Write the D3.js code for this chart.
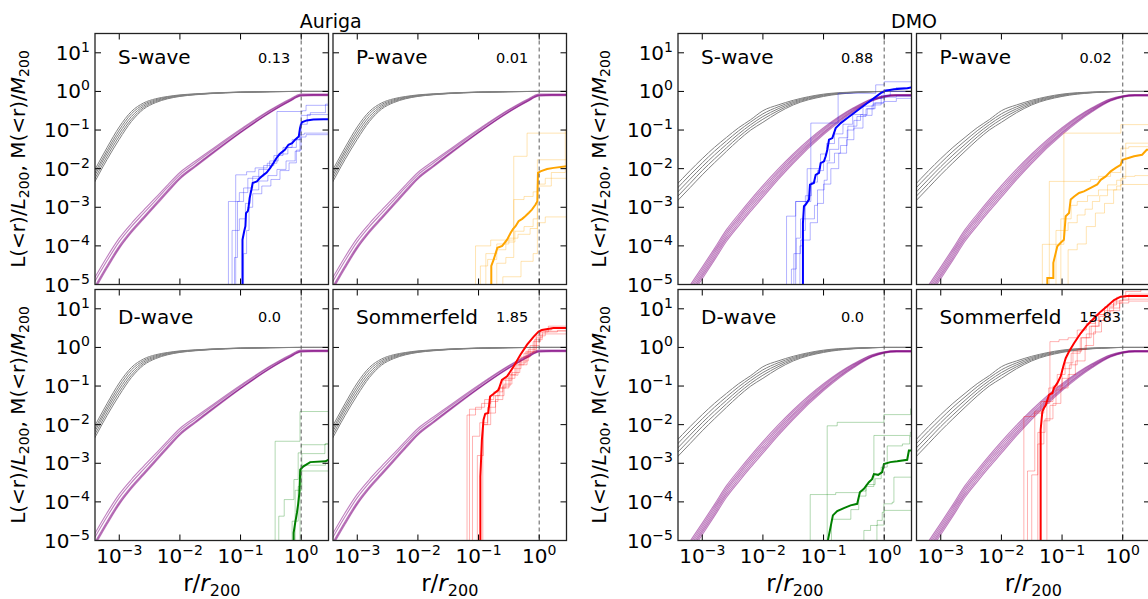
<!DOCTYPE html>
<html><head><meta charset="utf-8">
<script src="https://cdn.jsdelivr.net/npm/d3@7"></script>
<style>body{margin:0;background:#fff;} svg{display:block;font-family:"DejaVu Sans",sans-serif;}</style>
</head><body><svg id="chart" width="1148" height="599"></svg>
<script>
// ---------------- DATA (all values are log10 of r/r200 and of L or M) ----------------
const groupTitles = ["Auriga", "DMO"];
const panelLabels = ["S-wave", "P-wave", "D-wave", "Sommerfeld"];
const aurValues = ["0.13", "0.01", "0.0", "1.85"];
const dmoValues = ["0.88", "0.02", "0.0", "15.83"];
const xTickExp = [-3, -2, -1, 0];
const yTickExp = [-5, -4, -3, -2, -1, 0, 1];

const logRGrid = [-3.45,-3.2,-3.0,-2.8,-2.6,-2.4,-2.2,-2.0,-1.75,-1.5,-1.0,-0.5,-0.2,0,0.2,0.5];

const aurGray = [
 [-2.17,-1.45,-0.92,-0.52,-0.30,-0.19,-0.13,-0.09,-0.063,-0.042,-0.016,-0.004,-0.001,0,0,0],
 [-2.25,-1.53,-1.00,-0.58,-0.34,-0.215,-0.145,-0.10,-0.069,-0.046,-0.018,-0.005,-0.001,0,0,0],
 [-2.32,-1.60,-1.08,-0.65,-0.38,-0.24,-0.16,-0.11,-0.075,-0.05,-0.02,-0.006,-0.002,0,0,0],
 [-2.40,-1.68,-1.16,-0.72,-0.42,-0.265,-0.175,-0.12,-0.081,-0.054,-0.022,-0.007,-0.002,0,0,0],
 [-2.48,-1.76,-1.24,-0.78,-0.46,-0.29,-0.19,-0.13,-0.087,-0.058,-0.024,-0.008,-0.002,0,0,0]
];
const aurPurple = [
 [-4.95,-4.28,-3.80,-3.42,-3.08,-2.75,-2.42,-2.10,-1.81,-1.53,-0.98,-0.47,-0.21,-0.07,-0.07,-0.07],
 [-5.05,-4.38,-3.89,-3.50,-3.16,-2.82,-2.48,-2.16,-1.86,-1.57,-1.01,-0.49,-0.23,-0.085,-0.08,-0.08],
 [-5.18,-4.50,-4.00,-3.60,-3.25,-2.90,-2.55,-2.22,-1.92,-1.62,-1.05,-0.52,-0.25,-0.10,-0.09,-0.09],
 [-5.22,-4.54,-4.04,-3.63,-3.28,-2.93,-2.58,-2.25,-1.94,-1.64,-1.06,-0.53,-0.26,-0.11,-0.10,-0.10],
 [-5.26,-4.58,-4.07,-3.66,-3.31,-2.96,-2.61,-2.27,-1.96,-1.66,-1.07,-0.54,-0.27,-0.12,-0.11,-0.11]
];
const dmoGray = [
 [-2.46,-2.05,-1.74,-1.45,-1.19,-0.94,-0.73,-0.50,-0.35,-0.23,-0.07,-0.015,-0.003,0,0,0],
 [-2.57,-2.16,-1.85,-1.55,-1.28,-1.02,-0.79,-0.58,-0.40,-0.26,-0.085,-0.02,-0.004,0,0,0],
 [-2.68,-2.27,-1.95,-1.65,-1.37,-1.10,-0.86,-0.65,-0.45,-0.29,-0.10,-0.025,-0.006,0,0,0],
 [-2.79,-2.38,-2.05,-1.75,-1.46,-1.18,-0.93,-0.72,-0.50,-0.32,-0.115,-0.03,-0.008,0,0,0],
 [-2.90,-2.49,-2.16,-1.85,-1.55,-1.26,-1.00,-0.80,-0.55,-0.35,-0.13,-0.035,-0.01,0,0,0]
];
const dmoPurple = [
 [-5.65,-5.02,-4.55,-4.07,-3.58,-3.18,-2.80,-2.44,-2.015,-1.62,-0.94,-0.417,-0.19,-0.112,-0.082,-0.082],
 [-5.71,-5.08,-4.61,-4.13,-3.64,-3.24,-2.86,-2.50,-2.07,-1.67,-0.976,-0.438,-0.202,-0.119,-0.089,-0.089],
 [-5.77,-5.14,-4.67,-4.19,-3.70,-3.30,-2.92,-2.56,-2.12,-1.72,-1.01,-0.459,-0.214,-0.126,-0.096,-0.096],
 [-5.83,-5.20,-4.73,-4.25,-3.76,-3.36,-2.98,-2.62,-2.18,-1.76,-1.05,-0.481,-0.226,-0.134,-0.104,-0.104],
 [-5.89,-5.26,-4.79,-4.31,-3.82,-3.42,-3.04,-2.68,-2.23,-1.81,-1.084,-0.502,-0.238,-0.141,-0.111,-0.111],
 [-5.95,-5.32,-4.85,-4.37,-3.88,-3.48,-3.10,-2.74,-2.285,-1.86,-1.12,-0.523,-0.25,-0.148,-0.118,-0.118]
];

// Auriga S-wave (blue)
const aurSMain = [[-0.968,-6],[-0.968,-3.84],[-0.95,-3.70],[-0.94,-3.62],[-0.92,-3.49],[-0.91,-3.15],[-0.88,-3.10],[-0.87,-3.02],[-0.85,-2.76],[-0.82,-2.54],[-0.80,-2.37],[-0.73,-2.33],[-0.68,-2.24],[-0.62,-2.16],[-0.57,-2.10],[-0.51,-1.98],[-0.46,-1.86],[-0.41,-1.73],[-0.35,-1.61],[-0.27,-1.51],[-0.21,-1.38],[-0.15,-1.34],[-0.10,-1.25],[-0.04,-1.17],[-0.02,-0.95],[0.01,-0.80],[0.09,-0.75],[0.2,-0.73],[0.37,-0.72],[0.5,-0.72]];
const aurSThin = [
 [[-1.20,-6],[-1.20,-2.85],[-1.02,-2.62],[-0.88,-2.25],[-0.70,-2.02],[-0.52,-1.80],[-0.38,-1.62],[-0.22,-1.45],[-0.08,-1.25],[0.0,-0.62],[0.15,-0.55],[0.40,-0.33],[0.5,-0.33]],
 [[-1.08,-6],[-1.08,-2.16],[-0.90,-2.08],[-0.76,-1.98],[-0.56,-1.86],[-0.40,-0.52],[0.02,-0.50],[0.08,-0.36],[0.5,-0.36]],
 [[-1.14,-6],[-1.14,-3.6],[-1.02,-3.3],[-0.92,-2.9],[-0.84,-2.55],[-0.70,-2.32],[-0.55,-2.18],[-0.40,-2.02],[-0.25,-1.80],[-0.10,-1.55],[-0.02,-1.12],[0.05,-1.08],[0.5,-1.08]],
 [[-0.95,-6],[-0.95,-4.2],[-0.90,-3.6],[-0.86,-3.0],[-0.80,-2.65],[-0.65,-2.45],[-0.50,-2.28],[-0.35,-2.05],[-0.20,-1.85],[-0.08,-1.52],[0.0,-1.18],[0.08,-1.12],[0.5,-1.10]],
 [[-1.10,-6],[-1.10,-4.3],[-1.05,-2.85],[-0.95,-2.50],[-0.80,-2.20],[-0.62,-1.92],[-0.45,-1.66],[-0.30,-1.45],[-0.15,-1.25],[-0.02,-0.85],[0.1,-0.60],[0.5,-0.55]]
];
// Auriga P-wave (orange)
const aurPMain = [[-0.79,-6],[-0.79,-4.52],[-0.75,-4.35],[-0.69,-4.05],[-0.61,-4.0],[-0.53,-3.84],[-0.47,-3.66],[-0.43,-3.56],[-0.39,-3.49],[-0.34,-3.36],[-0.28,-3.30],[-0.23,-3.23],[-0.17,-3.14],[-0.12,-3.06],[-0.06,-2.93],[-0.03,-2.84],[-0.02,-2.11],[0.02,-2.07],[0.13,-2.01],[0.24,-1.98],[0.45,-1.94],[0.5,-1.94]];
const aurPThin = [
 [[-1.05,-6],[-1.05,-4.0],[-0.80,-3.85],[-0.42,-2.80],[-0.25,-2.72],[-0.10,-2.6],[-0.03,-1.77],[0.5,-1.77]],
 [[-0.97,-6],[-0.97,-4.52],[-0.85,-4.35],[-0.70,-4.10],[-0.55,-3.90],[-0.40,-3.62],[-0.25,-3.50],[-0.10,-3.30],[-0.03,-2.40],[0.10,-2.25],[0.5,-2.20]],
 [[-0.70,-6],[-0.70,-4.45],[-0.55,-4.3],[-0.42,-4.2],[-0.42,-1.68],[-0.20,-1.08],[0.5,-1.05]],
 [[-0.60,-6],[-0.60,-4.8],[-0.30,-4.4],[-0.10,-4.2],[-0.03,-3.4],[0.10,-3.25],[0.5,-3.22]],
 [[-0.88,-6],[-0.88,-4.2],[-0.70,-3.95],[-0.50,-3.80],[-0.35,-3.70],[-0.15,-3.55],[-0.03,-2.45],[0.2,-2.10],[0.43,-1.0],[0.5,-1.0]]
];
// Auriga D-wave (green)
const aurDMain = [[-0.126,-6],[-0.125,-4.8],[-0.10,-4.55],[-0.07,-4.28],[-0.05,-4.05],[-0.03,-3.77],[-0.016,-3.165],[0.01,-3.12],[0.038,-3.08],[0.148,-2.97],[0.40,-2.95],[0.45,-2.91],[0.5,-2.91]];
const aurDThin = [
 [[-0.43,-6],[-0.43,-2.43],[-0.02,-2.43],[-0.02,-1.66],[0.5,-1.66]],
 [[-0.37,-6],[-0.37,-4.37],[-0.28,-3.94],[-0.12,-3.42],[-0.05,-2.73],[0.0,-2.52],[0.4,-2.50],[0.45,-2.40],[0.5,-2.40]],
 [[-0.02,-6],[-0.02,-3.20],[0.5,-3.20]],
 [[-0.10,-6],[-0.10,-3.7],[0.01,-2.75],[0.39,-2.75],[0.39,-2.5],[0.5,-2.5]],
 [[-0.15,-6],[-0.15,-4.5],[-0.05,-3.6],[0.0,-3.05],[0.4,-3.0],[0.5,-2.9]]
];
// Auriga Sommerfeld (red)
const aurSomMain = [[-0.97,-6],[-0.97,-3.34],[-0.945,-2.39],[-0.918,-1.87],[-0.89,-1.72],[-0.84,-1.70],[-0.81,-1.27],[-0.75,-1.20],[-0.67,-1.10],[-0.615,-0.84],[-0.53,-0.75],[-0.42,-0.49],[-0.31,-0.19],[-0.2,0.07],[-0.09,0.28],[-0.01,0.41],[0.044,0.45],[0.236,0.50],[0.5,0.50]];
const aurSomThin = [
 [[-1.19,-6],[-1.19,-1.75],[-1.05,-1.55],[-0.9,-1.35],[-0.75,-1.15],[-0.6,-0.85],[-0.45,-0.55],[-0.3,-0.25],[-0.15,0.05],[0.0,0.40],[0.15,0.55],[0.5,0.60]],
 [[-1.10,-6],[-1.10,-2.3],[-0.98,-1.95],[-0.85,-1.55],[-0.72,-1.25],[-0.58,-0.95],[-0.45,-0.65],[-0.32,-0.35],[-0.18,-0.05],[-0.05,0.25],[0.05,0.35],[0.5,0.38]],
 [[-1.02,-6],[-1.02,-2.8],[-0.92,-2.0],[-0.80,-1.40],[-0.68,-1.05],[-0.55,-0.80],[-0.40,-0.45],[-0.25,-0.15],[-0.10,0.15],[0.02,0.45],[0.2,0.50],[0.5,0.52]],
 [[-1.15,-6],[-1.15,-1.6],[-0.95,-1.45],[-0.80,-1.25],[-0.65,-1.05],[-0.5,-0.70],[-0.38,-0.40],[-0.22,-0.10],[-0.08,0.20],[0.05,0.40],[0.3,0.44],[0.5,0.46]],
 [[-0.93,-6],[-0.93,-2.0],[-0.85,-1.7],[-0.72,-1.35],[-0.60,-1.00],[-0.48,-0.72],[-0.35,-0.45],[-0.20,-0.12],[-0.05,0.30],[0.1,0.42],[0.5,0.45]]
];
// DMO S-wave (blue)
const dmoSMain = [[-1.34,-6],[-1.34,-3.41],[-1.323,-2.975],[-1.295,-2.93],[-1.24,-2.80],[-1.224,-2.415],[-1.16,-2.37],[-1.13,-2.16],[-1.075,-2.11],[-1.048,-1.855],[-0.993,-1.81],[-0.965,-1.68],[-0.938,-1.51],[-0.91,-1.25],[-0.855,-1.21],[-0.80,-0.95],[-0.718,-0.82],[-0.608,-0.69],[-0.498,-0.56],[-0.388,-0.43],[-0.278,-0.30],[-0.168,-0.175],[-0.058,-0.046],[0.025,0.02],[0.162,0.057],[0.382,0.083],[0.47,0.11],[0.5,0.11]];
const dmoSThin = [
 [[-1.61,-6],[-1.61,-3.23],[-1.46,-2.85],[-1.21,-2.6],[-1.21,-0.82],[-0.76,-0.05],[-0.14,0.17],[0.0,0.25],[0.45,0.40],[0.5,0.40]],
 [[-1.53,-6],[-1.53,-4.6],[-1.45,-3.8],[-1.38,-3.3],[-1.30,-2.7],[-1.20,-2.35],[-1.10,-2.05],[-1.00,-1.80],[-0.90,-1.50],[-0.75,-1.20],[-0.60,-0.90],[-0.45,-0.65],[-0.30,-0.45],[-0.15,-0.30],[0.0,-0.15],[0.2,-0.12],[0.5,-0.12]],
 [[-1.46,-6],[-1.46,-2.85],[-1.27,-2.0],[-1.05,-1.62],[-0.95,-1.35],[-0.82,-1.10],[-0.68,-0.85],[-0.52,-0.60],[-0.35,-0.38],[-0.18,-0.18],[0.0,0.05],[0.2,0.10],[0.5,0.12]],
 [[-1.39,-6],[-1.39,-4.0],[-1.35,-3.6],[-1.30,-3.3],[-1.15,-2.95],[-1.10,-2.55],[-0.99,-2.30],[-0.94,-1.85],[-0.82,-1.60],[-0.72,-1.40],[-0.61,-1.0],[-0.50,-0.75],[-0.39,-0.60],[-0.28,-0.45],[-0.17,-0.30],[-0.01,-0.26],[0.2,-0.18],[0.5,-0.15]],
 [[-1.49,-6],[-1.49,-4.2],[-1.38,-3.85],[-1.22,-3.40],[-1.10,-2.90],[-1.00,-2.40],[-0.88,-2.00],[-0.75,-1.60],[-0.62,-1.25],[-0.50,-0.95],[-0.35,-0.62],[-0.20,-0.35],[-0.05,-0.10],[0.1,0.0],[0.5,0.02]]
];
// DMO P-wave (orange)
const dmoPMain = [[-1.243,-6],[-1.243,-4.83],[-1.144,-4.83],[-1.144,-4.44],[-1.078,-4.01],[-1.023,-3.92],[-0.97,-3.84],[-0.94,-3.23],[-0.885,-3.15],[-0.858,-2.80],[-0.80,-2.72],[-0.72,-2.63],[-0.64,-2.59],[-0.528,-2.50],[-0.42,-2.41],[-0.363,-2.29],[-0.28,-2.20],[-0.198,-2.07],[-0.115,-1.98],[-0.033,-1.90],[-0.005,-1.77],[0.08,-1.73],[0.187,-1.68],[0.32,-1.64],[0.396,-1.51],[0.5,-1.51]];
const dmoPThin = [
 [[-1.325,-6],[-1.325,-3.96],[-0.97,-1.08],[-0.03,-0.86],[0.5,-0.86]],
 [[-1.21,-6],[-1.21,-2.33],[-0.53,-2.28],[-0.40,-2.20],[-0.20,-2.10],[-0.03,-1.47],[0.1,-1.43],[0.5,-1.43]],
 [[-1.02,-6],[-1.02,-3.30],[-0.85,-2.95],[-0.75,-2.85],[-0.58,-2.70],[-0.40,-2.55],[-0.25,-2.42],[-0.10,-2.30],[0.0,-2.20],[0.2,-2.18],[0.5,-2.15]],
 [[-1.10,-6],[-1.10,-3.60],[-0.90,-3.40],[-0.75,-3.20],[-0.62,-3.05],[-0.50,-2.85],[-0.38,-2.70],[-0.25,-2.55],[-0.10,-2.45],[-0.03,-2.41],[0.5,-2.41]],
 [[-0.90,-6],[-0.90,-4.1],[-0.75,-3.95],[-0.60,-3.50],[-0.45,-3.15],[-0.30,-2.90],[-0.15,-2.55],[-0.03,-2.25],[0.05,-1.34],[0.5,-1.34]]
];
// DMO D-wave (green)
const dmoDMain = [[-0.929,-6],[-0.929,-5.0],[-0.874,-4.57],[-0.846,-4.35],[-0.775,-4.24],[-0.665,-4.16],[-0.555,-4.09],[-0.445,-4.05],[-0.401,-3.75],[-0.335,-3.66],[-0.253,-3.49],[-0.20,-3.41],[-0.17,-3.28],[-0.10,-3.30],[-0.033,-3.23],[-0.005,-3.02],[0.10,-2.97],[0.214,-2.95],[0.379,-2.91],[0.407,-2.67],[0.5,-2.67]];
const dmoDThin = [
 [[-1.22,-6],[-1.22,-3.81],[-0.80,-3.76],[-0.40,-3.72],[-0.30,-3.55],[-0.15,-3.40],[-0.05,-3.10],[0.05,-2.55],[0.3,-2.50],[0.42,-2.30],[0.5,-2.30]],
 [[-0.94,-6],[-0.94,-2.03],[-0.775,-1.94],[-0.005,-1.74],[0.434,-1.59],[0.5,-1.59]],
 [[-0.335,-6],[-0.335,-4.74],[-0.225,-4.61],[-0.115,-4.48],[-0.033,-4.27],[-0.005,-4.05],[0.132,-4.01],[0.16,-3.36],[0.5,-3.32]],
 [[-0.87,-6],[-0.87,-4.45],[-0.55,-4.2],[-0.42,-3.85],[-0.30,-3.6],[-0.17,-3.45],[-0.17,-2.28],[0.43,-2.20],[0.5,-2.20]],
 [[-0.12,-6],[-0.12,-4.6],[0.0,-4.22],[0.5,-4.22]]
];
// DMO Sommerfeld (red)
const dmoSomMain = [[-1.353,-6],[-1.353,-2.13],[-1.325,-1.66],[-1.298,-1.57],[-1.27,-1.50],[-1.243,-1.36],[-1.215,-1.23],[-1.16,-1.18],[-1.133,-1.05],[-1.078,-0.925],[-1.023,-0.75],[-0.979,-0.49],[-0.94,-0.28],[-0.885,-0.107],[-0.803,0.108],[-0.693,0.367],[-0.583,0.582],[-0.473,0.755],[-0.363,0.927],[-0.253,1.073],[-0.143,1.228],[-0.033,1.314],[0.077,1.33],[0.5,1.33]];
const dmoSomThin = [
 [[-1.63,-6],[-1.63,-1.79],[-1.46,-1.70],[-1.30,-1.40],[-1.15,-1.00],[-1.0,-0.55],[-0.85,-0.15],[-0.70,0.25],[-0.55,0.55],[-0.40,0.85],[-0.25,1.10],[-0.10,1.30],[0.05,1.45],[0.3,1.53],[0.5,1.53]],
 [[-1.57,-6],[-1.57,-3.2],[-1.45,-2.9],[-1.45,-1.65],[-1.35,-1.40],[-1.22,-1.05],[-1.08,-0.70],[-0.95,-0.40],[-0.82,-0.10],[-0.68,0.25],[-0.52,0.55],[-0.38,0.80],[-0.22,1.02],[-0.05,1.22],[0.1,1.38],[0.5,1.40]],
 [[-1.40,-6],[-1.40,-2.5],[-1.30,-1.9],[-1.20,-1.50],[-1.10,-1.10],[-1.00,-0.80],[-0.88,-0.45],[-0.75,-0.05],[-0.60,0.35],[-0.45,0.70],[-0.30,0.95],[-0.15,1.15],[0.0,1.25],[0.5,1.27]],
 [[-1.25,-6],[-1.25,-1.45],[-1.20,0.15],[-1.05,0.20],[-0.90,0.25],[-0.75,0.45],[-0.60,0.62],[-0.45,0.85],[-0.30,1.05],[-0.15,1.20],[0.0,1.32],[0.5,1.35]],
 [[-1.50,-6],[-1.50,-3.3],[-1.40,-2.2],[-1.28,-1.85],[-1.15,-1.45],[-1.02,-1.05],[-0.90,-0.70],[-0.78,-0.35],[-0.62,0.05],[-0.48,0.40],[-0.35,0.70],[-0.20,0.95],[-0.05,1.15],[0.1,1.20],[0.5,1.22]]
];

const seriesColors = ["blue", "orange", "green", "red"];

// ---------------- LAYOUT ----------------
const svg = d3.select("#chart");
const W = 233.5, H = 251;
const colLefts = [95, 333, 678, 916.5];
const rowTops = [33.5, 289.5];
const xDomain = [Math.pow(10, -3.4), Math.pow(10, 0.45)];
const yDomain = [1e-5, Math.pow(10, 1.5)];

const panels = [
  {g:0, c:0, r:0, k:0, val:aurValues[0], main:aurSMain, thin:aurSThin},
  {g:0, c:1, r:0, k:1, val:aurValues[1], main:aurPMain, thin:aurPThin},
  {g:0, c:0, r:1, k:2, val:aurValues[2], main:aurDMain, thin:aurDThin},
  {g:0, c:1, r:1, k:3, val:aurValues[3], main:aurSomMain, thin:aurSomThin},
  {g:1, c:0, r:0, k:0, val:dmoValues[0], main:dmoSMain, thin:dmoSThin},
  {g:1, c:1, r:0, k:1, val:dmoValues[1], main:dmoPMain, thin:dmoPThin},
  {g:1, c:0, r:1, k:2, val:dmoValues[2], main:dmoDMain, thin:dmoDThin},
  {g:1, c:1, r:1, k:3, val:dmoValues[3], main:dmoSomMain, thin:dmoSomThin}
];

function supText(sel, base, exp, supSize, dySup) {
  sel.append("tspan").text(base);
  sel.append("tspan").attr("font-size", supSize).attr("dy", dySup).text(exp < 0 ? "\u2212" + (-exp) : String(exp));
}

panels.forEach((p, i) => {
  const x0 = colLefts[p.g * 2 + p.c], y0 = rowTops[p.r];
  const x = d3.scaleLog().domain(xDomain).range([x0, x0 + W]);
  const y = d3.scaleLog().domain(yDomain).range([y0 + H, y0]);
  const cid = "clip" + i;
  svg.append("clipPath").attr("id", cid).append("rect").attr("x", x0).attr("y", y0).attr("width", W).attr("height", H);
  const g = svg.append("g").attr("clip-path", `url(#${cid})`);

  const gridPts = arr => logRGrid.map((lr, j) => [lr, arr[j]]);
  const smooth = d3.line().x(d => x(Math.pow(10, d[0]))).y(d => y(Math.pow(10, d[1]))).curve(d3.curveMonotoneX);
  const step = d3.line().x(d => x(Math.pow(10, d[0]))).y(d => y(Math.pow(10, d[1]))).curve(d3.curveStepAfter);
  const lin = d3.line().x(d => x(Math.pow(10, d[0]))).y(d => y(Math.pow(10, d[1])));

  const grays = p.g === 0 ? aurGray : dmoGray;
  const purples = p.g === 0 ? aurPurple : dmoPurple;
  grays.forEach(a => g.append("path").attr("d", smooth(gridPts(a))).attr("fill", "none").attr("stroke", "#808080").attr("stroke-width", 1.0));
  purples.forEach(a => g.append("path").attr("d", smooth(gridPts(a))).attr("fill", "none").attr("stroke", "#800080").attr("stroke-opacity", 0.5).attr("stroke-width", 1.1));
  const col = seriesColors[p.k];
  p.thin.forEach(a => g.append("path").attr("d", step(a)).attr("fill", "none").attr("stroke", col).attr("stroke-opacity", 0.3).attr("stroke-width", 1));
  g.append("path").attr("d", lin(p.main)).attr("fill", "none").attr("stroke", col).attr("stroke-width", 2);

  // dashed line at r = r200
  svg.append("line").attr("x1", x(1)).attr("x2", x(1)).attr("y1", y0).attr("y2", y0 + H)
    .attr("stroke", "#555").attr("stroke-opacity", 0.8).attr("stroke-width", 1.2).attr("stroke-dasharray", "4,3");

  // ticks (inward, all four sides)
  const tk = svg.append("g").attr("stroke", "#000").attr("stroke-width", 1);
  xTickExp.forEach(e => {
    const xx = x(Math.pow(10, e));
    tk.append("line").attr("x1", xx).attr("x2", xx).attr("y1", y0 + H).attr("y2", y0 + H - 6);
    tk.append("line").attr("x1", xx).attr("x2", xx).attr("y1", y0).attr("y2", y0 + 6);
  });
  yTickExp.forEach(e => {
    const yy = y(Math.pow(10, e));
    tk.append("line").attr("x1", x0).attr("x2", x0 + 6).attr("y1", yy).attr("y2", yy);
    tk.append("line").attr("x1", x0 + W).attr("x2", x0 + W - 6).attr("y1", yy).attr("y2", yy);
  });
  svg.append("rect").attr("x", x0).attr("y", y0).attr("width", W).attr("height", H)
    .attr("fill", "none").attr("stroke", "#222").attr("stroke-width", 1.3);

  // tick labels
  if (p.c === 0) {
    yTickExp.forEach(e => {
      const t = svg.append("text").attr("x", x0 - 5).attr("y", y(Math.pow(10, e)) + 7)
        .attr("text-anchor", "end").attr("font-size", 20).attr("fill", "#000");
      supText(t, "10", e, 14, -8);
    });
  }
  if (p.r === 1) {
    xTickExp.forEach(e => {
      const t = svg.append("text").attr("x", x(Math.pow(10, e))).attr("y", 563)
        .attr("text-anchor", "middle").attr("font-size", 20).attr("fill", "#000");
      supText(t, "10", e, 14, -8);
    });
  }

  // panel texts
  svg.append("text").attr("x", x0 + 23).attr("y", y0 + (p.r === 0 ? 30 : 34))
    .attr("font-size", 20).attr("fill", "#000").text(panelLabels[p.k]);
  svg.append("text").attr("x", x0 + 163).attr("y", y0 + (p.r === 0 ? 29.5 : 32))
    .attr("font-size", 14.5).attr("fill", "#000").text(p.val);
});

// group titles, axis labels
[0, 1].forEach(gi => {
  const cx = (colLefts[gi * 2] + W + colLefts[gi * 2 + 1]) / 2;
  svg.append("text").attr("x", cx).attr("y", 28).attr("text-anchor", "middle")
    .attr("font-size", 19).attr("fill", "#000").text(groupTitles[gi]);
  const lx = gi === 0 ? 25 : 606;
  rowTops.forEach(rt => {
    const cy = rt + H / 2;
    const t = svg.append("text").attr("transform", `translate(${lx},${cy}) rotate(-90)`)
      .attr("text-anchor", "middle").attr("font-size", 20).attr("fill", "#000");
    t.append("tspan").text("L(<r)/");
    t.append("tspan").attr("font-style", "italic").text("L");
    t.append("tspan").attr("font-size", 14).attr("dy", 4).text("200");
    t.append("tspan").attr("dy", -4).text(", M(<r)/");
    t.append("tspan").attr("font-style", "italic").text("M");
    t.append("tspan").attr("font-size", 14).attr("dy", 4).text("200");
  });
  [0, 1].forEach(c => {
    const cx2 = colLefts[gi * 2 + c] + W / 2;
    const t = svg.append("text").attr("x", cx2).attr("y", 591).attr("text-anchor", "middle")
      .attr("font-size", 23).attr("fill", "#000");
    t.append("tspan").text("r/");
    t.append("tspan").attr("font-style", "italic").text("r");
    t.append("tspan").attr("font-size", 16).attr("dy", 5).text("200");
  });
});
</script>
</body></html>
